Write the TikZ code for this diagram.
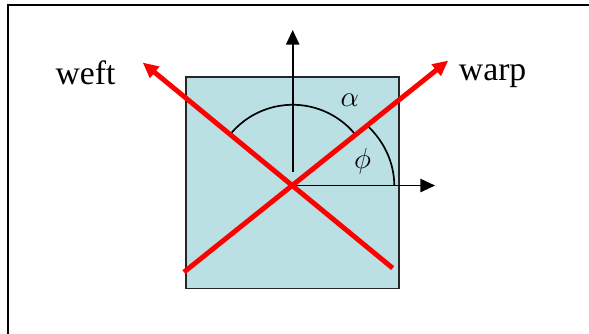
\documentclass[tikz,border=0pt]{standalone}
\usepackage{fontspec}
\setmainfont{Liberation Serif}
\usepackage{amsmath,amssymb}
\usetikzlibrary{arrows.meta}
\definecolor{clothblue}{RGB}{186,224,227}

\begin{document}
\begin{tikzpicture}[scale=1.0,>={Triangle[length=10.5pt,width=9.5pt]}]
  \useasboundingbox (-7.32,-3.71) rectangle (7.41,4.64);
  \clip (-7.32,-3.71) rectangle (7.41,4.64);
  \draw[line width=1.6pt] (-7.12,-4.5) rectangle (7.9,4.52);
  \coordinate (O) at (0,0);
  \filldraw[fill=clothblue,draw=black!85,line width=1.1pt] (-2.67,-2.58) rectangle (2.66,2.72);
  \draw[->,line width=1.2pt] (0,0.34) -- (0,3.89);
  \draw[->,line width=1.2pt] (O) -- (3.56,0);
  \draw[line width=1.2pt] (39.5:2.02) arc[start angle=39.5,end angle=140,radius=2.02];
  \draw[line width=1.2pt] (2.54,0) arc[start angle=0,end angle=44,x radius=2.54,y radius=2.21];
  \draw[line width=3.5pt,red,-{Triangle[length=11pt,width=10pt]}] (-2.72,-2.165) -- (3.89,3.125);
  \draw[line width=3.5pt,red,-{Triangle[length=11pt,width=10pt]}] (2.5,-2.065) -- (-3.75,3.075);
  \node[font=\fontsize{22}{26}\selectfont] (alpha) at (1.43,2.14) {$\alpha$};
  \node[font=\fontsize{22}{26}\selectfont] (phi) at (1.75,0.6) {$\phi$};
  \node[font=\fontsize{24}{28}\selectfont,anchor=base] (weft) at (-5.18,2.535) {weft};
  \node[font=\fontsize{24}{28}\selectfont,anchor=base] (warp) at (5.0,2.625) {warp};
\end{tikzpicture}
\end{document}
